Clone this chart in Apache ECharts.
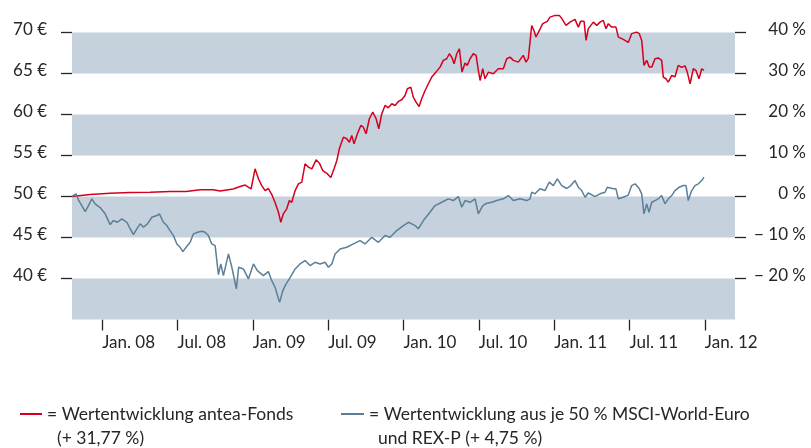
<!DOCTYPE html>
<html>
<head>
<meta charset="utf-8">
<script src="https://cdn.jsdelivr.net/npm/echarts@6/dist/echarts.min.js"></script>
<style>
	html, body { margin: 0; padding: 0; background: #fff; }
	#chart { width: 811px; height: 448px; }
</style>
</head>
<body>
<div id="chart"></div>
<script>
// x = Monate seit Jan. 07, y = Anteilswert in €
let fondsMonths = [9.61, 11.04, 12.64, 14.23, 15.82, 17.41, 18.69, 19.80, 20.84, 21.39, 22.43, 22.99, 23.39, 23.86, 24.18, 24.44, 24.71, 24.98, 25.24, 25.51, 25.77, 26.04, 26.23, 26.43, 26.70, 26.91, 27.10, 27.37, 27.63, 27.90, 28.16, 28.43, 28.70, 29.04, 29.30, 29.57, 29.89, 30.21, 30.47, 30.69, 30.89, 31.21, 31.48, 31.69, 31.88, 32.06, 32.33, 32.60, 32.80, 33.02, 33.28, 33.55, 33.82, 34.03, 34.27, 34.53, 34.79, 35.07, 35.33, 35.59, 35.86, 36.12, 36.31, 36.58, 36.78, 37.00, 37.24, 37.45, 37.72, 37.98, 38.25, 38.59, 38.91, 39.17, 39.44, 39.65, 39.84, 40.03, 40.24, 40.45, 40.66, 40.90, 41.08, 41.30, 41.56, 41.78, 41.96, 42.10, 42.31, 42.49, 42.76, 43.15, 43.55, 43.95, 44.22, 44.48, 44.75, 45.14, 45.54, 45.76, 45.94, 46.21, 46.39, 46.55, 46.82, 47.09, 47.45, 47.67, 48.07, 48.41, 48.60, 48.94, 49.26, 49.66, 49.92, 50.11, 50.38, 50.54, 50.72, 51.12, 51.39, 51.65, 51.91, 52.13, 52.31, 52.58, 52.92, 53.11, 53.38, 53.64, 53.90, 54.17, 54.57, 54.78, 54.97, 55.15, 55.37, 55.57, 55.77, 56.03, 56.29, 56.56, 56.69, 56.90, 57.09, 57.36, 57.62, 57.88, 58.15, 58.42, 58.60, 58.82, 59.08, 59.29, 59.53, 59.75, 59.93];
let fondsValues = [50.00, 50.24, 50.40, 50.49, 50.53, 50.61, 50.61, 50.82, 50.82, 50.67, 50.92, 51.22, 51.40, 50.92, 53.38, 52.20, 51.34, 50.73, 50.98, 50.24, 49.27, 48.08, 46.86, 47.89, 48.50, 49.51, 49.30, 50.73, 51.55, 51.75, 53.99, 53.58, 53.38, 54.48, 54.07, 53.17, 52.84, 52.32, 53.38, 54.40, 55.82, 57.24, 57.05, 56.63, 57.45, 56.43, 57.66, 58.67, 58.46, 57.66, 59.49, 60.29, 59.49, 58.27, 60.10, 61.11, 60.83, 61.32, 61.11, 61.60, 61.81, 62.33, 63.15, 63.35, 62.12, 61.51, 60.99, 61.93, 62.94, 63.76, 64.57, 65.18, 65.79, 66.61, 66.81, 67.42, 67.01, 66.20, 67.42, 68.03, 65.18, 66.30, 66.00, 66.81, 67.42, 67.22, 65.38, 64.16, 65.59, 64.37, 65.18, 64.98, 65.59, 65.59, 66.81, 67.01, 66.61, 66.40, 67.22, 66.40, 66.85, 70.87, 70.26, 69.46, 70.26, 71.09, 71.37, 71.89, 72.10, 72.10, 71.73, 70.88, 71.28, 71.61, 70.67, 71.37, 71.37, 69.05, 70.48, 71.28, 70.88, 71.28, 71.49, 70.48, 71.09, 70.67, 70.67, 69.45, 69.26, 69.05, 68.80, 69.87, 70.06, 69.87, 69.05, 66.00, 66.61, 65.79, 65.79, 66.81, 66.91, 66.61, 64.57, 64.37, 63.96, 64.77, 64.62, 66.00, 65.75, 65.94, 65.18, 63.76, 65.59, 65.39, 64.37, 65.59, 65.39];
let benchMonths = [9.61, 9.93, 10.11, 10.38, 10.65, 10.91, 11.18, 11.44, 11.84, 12.24, 12.64, 12.90, 13.22, 13.57, 13.97, 14.23, 14.49, 14.76, 15.03, 15.29, 15.61, 15.96, 16.36, 16.56, 16.88, 17.15, 17.41, 17.68, 17.95, 18.21, 18.43, 18.69, 19.01, 19.27, 19.59, 19.94, 20.20, 20.46, 20.73, 21.00, 21.26, 21.45, 21.66, 22.06, 22.33, 22.69, 22.87, 23.25, 23.65, 24.05, 24.36, 24.84, 25.24, 25.51, 25.77, 26.13, 26.39, 26.65, 26.97, 27.37, 27.76, 28.16, 28.56, 28.96, 29.36, 29.75, 30.02, 30.29, 30.55, 30.95, 31.48, 32.01, 32.54, 32.94, 33.47, 34.00, 34.53, 34.93, 35.46, 35.99, 36.39, 36.66, 36.92, 37.18, 37.58, 38.11, 38.51, 39.05, 39.57, 39.97, 40.37, 40.64, 40.90, 41.30, 41.70, 41.96, 42.31, 42.63, 43.03, 43.43, 43.95, 44.35, 44.75, 45.28, 45.81, 46.08, 46.21, 46.47, 46.87, 47.27, 47.61, 47.93, 48.25, 48.60, 49.00, 49.32, 49.66, 49.92, 50.19, 50.46, 50.72, 51.25, 51.65, 52.05, 52.23, 52.71, 52.92, 53.11, 53.50, 53.90, 54.17, 54.44, 54.78, 54.97, 55.15, 55.37, 55.55, 55.77, 56.03, 56.29, 56.56, 56.82, 57.09, 57.36, 57.62, 57.96, 58.28, 58.50, 58.68, 58.95, 59.21, 59.48, 59.75, 59.93];
let benchValues = [50.06, 50.33, 49.60, 48.90, 48.17, 48.90, 49.72, 49.11, 48.66, 47.89, 46.58, 47.07, 46.86, 47.28, 46.86, 46.09, 45.36, 46.06, 46.67, 46.25, 46.67, 47.47, 47.68, 47.89, 46.86, 46.46, 45.85, 45.24, 44.22, 43.81, 43.28, 43.81, 44.42, 45.45, 45.64, 45.76, 45.64, 45.24, 44.22, 44.02, 40.48, 41.78, 40.35, 43.00, 41.37, 38.73, 41.37, 41.17, 39.95, 41.78, 40.96, 40.35, 40.84, 39.74, 38.93, 37.09, 38.52, 39.34, 40.11, 41.17, 41.78, 42.19, 41.58, 41.98, 41.78, 41.98, 41.37, 41.78, 43.00, 43.61, 43.81, 44.22, 44.63, 44.22, 45.03, 44.42, 45.24, 45.03, 45.85, 46.46, 46.86, 46.67, 46.46, 46.06, 47.07, 48.08, 48.90, 49.30, 49.72, 49.51, 50.00, 48.69, 49.51, 49.30, 49.72, 47.89, 48.90, 49.18, 49.30, 49.51, 49.72, 50.12, 49.51, 49.72, 49.51, 49.72, 50.53, 50.33, 50.94, 50.73, 51.75, 51.34, 52.16, 51.34, 50.98, 51.34, 51.95, 51.14, 50.73, 49.91, 50.43, 50.00, 50.33, 50.53, 51.14, 50.94, 50.94, 49.72, 49.91, 50.18, 51.34, 51.55, 50.94, 50.33, 47.89, 49.11, 48.08, 49.30, 49.51, 49.72, 50.12, 49.11, 49.72, 50.12, 50.73, 51.14, 51.34, 51.34, 49.51, 50.73, 51.34, 51.55, 51.95, 52.36];

// Achsen
let xTickMonths = [12, 18, 24, 30, 36, 42, 48, 54, 60];
let xTickLabels = ['Jan. 08', 'Jul. 08', 'Jan. 09', 'Jul. 09', 'Jan. 10', 'Jul. 10', 'Jan. 11', 'Jul. 11', 'Jan. 12'];
let euroTicks = [40, 45, 50, 55, 60, 65, 70];
let percentTicks = [-20, -10, 0, 10, 20, 30, 40];
let bandRanges = [[35, 40], [45, 50], [55, 60], [65, 70]];

// Legende
let fondsName = '= Wertentwicklung antea-Fonds';
let fondsNote = '(+ 31,77 %)';
let benchName = '= Wertentwicklung aus je 50 % MSCI-World-Euro';
let benchNote = 'und REX-P (+ 4,75 %)';

let red = '#d5001f';
let blue = '#5b7f98';
let band = '#c5d2dd';
let ink = '#262626';
let font = 'Lato';

let chart = echarts.init(document.getElementById('chart'));

let tickStyle = { show: true, length: 11, lineStyle: { color: ink, width: 1.3 } };

let option = {
	animation: false,
	grid: { left: 72, right: 76, top: 8, bottom: 128.5, outerBoundsMode: 'none' },
	legend: [
		{ data: [fondsName], left: 15, top: 400, icon: 'rect', itemWidth: 22, itemHeight: 2, textStyle: { fontFamily: font, fontSize: 17.5, color: ink } },
		{ data: [benchName], left: 336, top: 400, icon: 'rect', itemWidth: 23, itemHeight: 2, textStyle: { fontFamily: font, fontSize: 17.5, color: ink } },
	],
	graphic: [
		{ type: 'text', x: 57, y: 438, style: { text: fondsNote, font: `17.5px ${font}`, fill: ink, verticalAlign: 'middle' } },
		{ type: 'text', x: 378, y: 438, style: { text: benchNote, font: `17.5px ${font}`, fill: ink, verticalAlign: 'middle' } },
	],
	xAxis: {
		type: 'value',
		min: 9.6,
		max: 62.4,
		axisLine: { show: false, onZero: false },
		splitLine: { show: false },
		axisTick: { ...tickStyle, customValues: xTickMonths },
		axisLabel: {
			customValues: xTickMonths,
			margin: 15,
			align: 'left',
			fontFamily: font,
			fontSize: 17,
			color: ink,
			formatter: (v) => xTickLabels[xTickMonths.indexOf(v)],
		},
	},
	yAxis: [
		{
			type: 'value',
			min: 35,
			max: 73,
			axisLine: { show: false },
			splitLine: { show: false },
			axisTick: { ...tickStyle, customValues: euroTicks },
			axisLabel: {
				customValues: euroTicks,
				margin: 25,
				fontFamily: font,
				fontSize: 17,
				color: ink,
				verticalAlign: 'bottom',
				lineHeight: 6,
				formatter: (v) => `${v} €`,
			},
		},
		{
			type: 'value',
			position: 'right',
			min: -30,
			max: 46,
			axisLine: { show: false },
			splitLine: { show: false },
			axisTick: { ...tickStyle, customValues: percentTicks },
			axisLabel: {
				customValues: percentTicks,
				margin: 71,
				align: 'right',
				fontFamily: font,
				fontSize: 17,
				color: ink,
				verticalAlign: 'bottom',
				lineHeight: 6,
				formatter: (v) => (v < 0 ? `− ${-v} %` : `${v} %`),
			},
		},
	],
	series: [
		{
			// graue Bänder
			type: 'line',
			data: [],
			z: 1,
			silent: true,
			markArea: {
				silent: true,
				itemStyle: { color: band },
				data: bandRanges.map((r) => [{ yAxis: r[0] }, { yAxis: r[1] }]),
			},
		},
		{
			name: fondsName,
			type: 'line',
			z: 3,
			showSymbol: false,
			color: red,
			lineStyle: { color: red, width: 1.5 },
			data: fondsMonths.map((m, i) => [m, fondsValues[i]]),
		},
		{
			name: benchName,
			type: 'line',
			z: 3,
			showSymbol: false,
			color: blue,
			lineStyle: { color: blue, width: 1.5 },
			data: benchMonths.map((m, i) => [m, benchValues[i]]),
		},
	],
};
chart.setOption(option);
</script>
</body>
</html>
